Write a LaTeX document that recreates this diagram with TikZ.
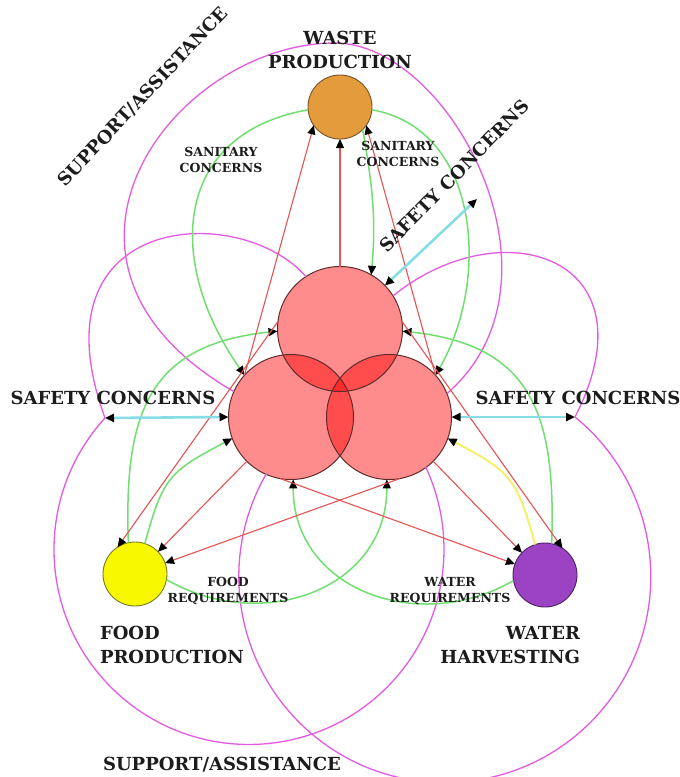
\documentclass[tikz,border=0pt]{standalone}
\usepackage{fontspec}
\setmainfont{DejaVu Serif}
\usetikzlibrary{arrows.meta}
\definecolor{magc}{HTML}{E25BE0}
\definecolor{grnc}{HTML}{70DF70}
\definecolor{redc}{HTML}{E55353}
\definecolor{cyac}{HTML}{86DDE6}
\definecolor{yelc}{HTML}{F2F26A}
\definecolor{orgf}{HTML}{E49B3C}
\definecolor{orgb}{HTML}{7A5224}
\definecolor{yelf}{HTML}{F8F800}
\definecolor{yelb}{HTML}{7C7A20}
\definecolor{purf}{HTML}{9B43C2}
\definecolor{purb}{HTML}{4E1F63}
\definecolor{hubb}{HTML}{5E2B2B}
\definecolor{txtc}{HTML}{1C1C1C}
\begin{document}
\begin{tikzpicture}[x=1pt,y=1pt,
  every node/.style={inner sep=0pt, outer sep=0pt},
  hub/.style={circle, minimum size=125pt, fill=red, fill opacity=0.45},
  hubline/.style={draw=hubb, line width=1pt},
  outer/.style={circle, minimum size=64pt, line width=0.9pt},
  tip/.tip={Triangle[length=9pt,width=8pt,color=black]},
  arr/.style={-tip},
  both/.style={tip-tip},
  redl/.style={draw=redc, line width=1.1pt, arr},
  grnl/.style={draw=grnc, line width=1.5pt, arr},
  yell/.style={draw=yelc, line width=2pt, arr},
  magl/.style={draw=magc, line width=1.3pt},
  cyl/.style={draw=cyac, line width=2.6pt, both},
  lblbig/.style={font=\bfseries\fontsize{18}{24}\selectfont, text=txtc, align=center},
  lblmid/.style={font=\bfseries\fontsize{18}{22}\selectfont, text=txtc},
  lblsmall/.style={font=\bfseries\fontsize{12.5}{16.5}\selectfont, text=txtc, align=center}
]
\fill[white] (0,0) rectangle (680,-777);
\useasboundingbox (0,0) rectangle (680,-777);

% central hubs
\node[hub] (T) at (340,-329) {};
\node[hub] (L) at (291,-417) {};
\node[hub] (R) at (389,-417) {};
\draw[hubline] (T) circle[radius=62.5];
\draw[hubline] (L) circle[radius=62.5];
\draw[hubline] (R) circle[radius=62.5];

% outer nodes
\node[outer, fill=orgf, draw=orgb] (W) at (340,-107) {};
\node[outer, fill=yelf, draw=yelb] (F) at (135,-574) {};
\node[outer, fill=purf, draw=purb] (H) at (545,-575) {};

% free ends
\coordinate (cl) at (105,-418);
\coordinate (cr) at (575,-417);
\coordinate (ct) at (477,-199);
\coordinate (mtop) at (335,-43);

% support / assistance (magenta)
\draw[magl] (L.156) to[out=150, in=180, out distance=260pt, in distance=160pt] (mtop)
                    to[out=0, in=41, out distance=115pt, in distance=172pt] (R.22);
\draw[magl] (T.123) to[out=131, in=110, out distance=100pt, in distance=220pt] (cl);
\draw[magl] (cl) arc[start angle=137.6, end angle=385, radius=195];
\draw[magl] (T.32) to[out=39, in=63, out distance=140pt, in distance=180pt] (cr);
\draw[magl] (cr) arc[start angle=50.8, end angle=-210, radius=206];

% green arcs
\draw[grnl] (W.185) to[out=190, in=125, distance=138pt] (L.138);
\draw[grnl] (W.355) to[out=-10, in=60, distance=110pt] (R.42);
\draw[grnl] (W.315) to[out=-80, in=85] (T.60);
\draw[grnl] (F.102) to[out=92, in=186, distance=130pt] (T.182);
\draw[grnl] (H.78) to[out=88, in=-6, distance=130pt] (T.-2);
\draw[grnl] (F.72) to[out=75, in=208, distance=70pt] (L.200);
\draw[grnl] (F.350) to[out=-30, in=270, distance=110pt] (R.268);
\draw[grnl] (H.190) to[out=210, in=270, distance=110pt] (L.272);
\draw[yell] (H.108) to[out=105, in=-28, distance=70pt] (R.340);

% red lines
\draw[redl] (T.90) -- (W.270);
\draw[redl] (L.138) -- (W.215);
\draw[redl] (R.42) -- (W.325);
\draw[redl] (T.173) -- (F.123);
\draw[redl] (T.7) -- (H.57);
\draw[redl] (L.225) -- (F.44);
\draw[redl] (R.315) -- (H.136);
\draw[redl] (R.280) -- (F.20);
\draw[redl] (L.260) -- (H.160);

% safety concerns (cyan)
\draw[cyl] (L.180) -- (cl);
\draw[cyl] (R.0) -- (cr);
\draw[cyl] (T.44) -- (ct);

% labels
\node[lblbig] (wp) at (340,-50) {WASTE\\PRODUCTION};
\node[lblsmall] (sc1) at (221,-160) {SANITARY\\CONCERNS};
\node[lblsmall] (sc2) at (398,-154) {SANITARY\\CONCERNS};
\node[lblmid] (sf1) at (113,-398) {SAFETY CONCERNS};
\node[lblmid] (sf2) at (578,-398) {SAFETY CONCERNS};
\node[lblmid, rotate=45.6] (sf3) at (454,-176) {SAFETY CONCERNS};
\node[lblmid, rotate=46.8] (sa1) at (143,-97) {SUPPORT/ASSISTANCE};
\node[lblmid] (sa2) at (222,-765) {SUPPORT/ASSISTANCE};
\node[lblsmall] (fr) at (228,-591) {FOOD\\REQUIREMENTS};
\node[lblsmall] (wr) at (450,-591) {WATER\\REQUIREMENTS};
\node[lblbig, align=left, anchor=west] (fp) at (100,-645) {FOOD\\PRODUCTION};
\node[lblbig, align=right, anchor=east] (wh) at (580,-645) {WATER\\HARVESTING};
\end{tikzpicture}
\end{document}
